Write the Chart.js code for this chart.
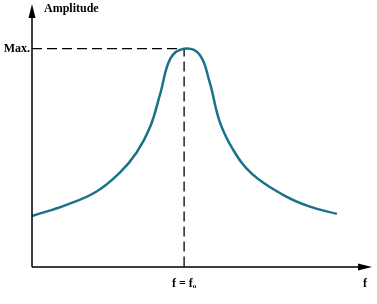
<!DOCTYPE html>
<html>
<head>
<meta charset="utf-8">
<script src="https://cdn.jsdelivr.net/npm/chart.js@4"></script>
<style>
  html, body { margin: 0; padding: 0; background: #fff; }
</style>
</head>
<body>
<canvas id="myChart" width="377" height="304"></canvas>
<script>
// resonance curve (x: frequency, y: amplitude, arbitrary units)
freq = [0, 1.0, 1.9, 2.6, 3.1, 3.5, 3.8, 4.1, 4.5, 4.95, 5.25, 5.55, 5.95, 6.5, 7.4, 8.2, 9.02];
amp = [1.98, 2.40, 2.92, 3.66, 4.45, 5.45, 6.75, 8.10, 8.47, 8.25, 7.20, 5.65, 4.55, 3.62, 2.82, 2.35, 2.06];

peakF = 4.5;
peakAmp = 8.47;

yTickLabels = ["Max."];
xTickLabels = ["f = f\u2092"];
yTitle = "Amplitude";
xTitle = "f";

const font = "'Liberation Serif', 'Times New Roman', serif";

const arrows = {
  id: "arrows",
  afterDraw(chart) {
    const ctx = chart.ctx;
    const x0 = chart.scales.x.left;
    const y0 = chart.scales.y.bottom;
    ctx.save();
    ctx.fillStyle = "#000";
    ctx.strokeStyle = "#000";
    ctx.lineWidth = 1.5;
    ctx.beginPath();
    ctx.moveTo(x0, y0);
    ctx.lineTo(x0, 12);
    ctx.moveTo(x0, y0);
    ctx.lineTo(364, y0);
    ctx.stroke();
    // y arrow
    ctx.beginPath();
    ctx.moveTo(x0, 4);
    ctx.lineTo(x0 - 3.5, 18);
    ctx.lineTo(x0 + 3.5, 18);
    ctx.closePath();
    ctx.fill();
    // x arrow
    ctx.beginPath();
    ctx.moveTo(372, y0);
    ctx.lineTo(358, y0 - 3.5);
    ctx.lineTo(358, y0 + 3.5);
    ctx.closePath();
    ctx.fill();
    // titles
    ctx.font = "bold 12px " + font;
    ctx.textBaseline = "middle";
    ctx.textAlign = "left";
    ctx.fillText(yTitle, 44, 9);
    ctx.fillText(xTitle, 363, 284);
    ctx.restore();
  }
};

function displayData() {
  const ctx = document.getElementById("myChart");

  new Chart(ctx, {
    type: "line",
    data: {
      datasets: [{
        data: freq.map((f, i) => ({ x: f, y: amp[i] })),
        borderColor: "#1b7189",
        borderWidth: 2.5,
        pointRadius: 0,
        tension: 0.4,
        fill: false
      }, {
        // dashed guide lines to the peak
        data: [{ x: 0, y: peakAmp }, { x: peakF, y: peakAmp }, { x: peakF, y: 0 }],
        borderColor: "#000",
        borderWidth: 1.3,
        borderDash: [10, 5],
        pointRadius: 0,
        tension: 0,
        fill: false
      }]
    },
    options: {
      responsive: false,
      animation: false,
      layout: { padding: { top: 5, right: 7, left: 0, bottom: 0 } },
      plugins: { legend: { display: false }, tooltip: { enabled: false } },
      scales: {
        x: {
          type: "linear",
          min: 0,
          max: 10,
          grid: { drawOnChartArea: false, drawTicks: false },
          border: { display: false },
          afterBuildTicks: s => { s.ticks = [{ value: peakF }]; },
          afterFit: s => { s.height = 37; },
          ticks: {
            padding: 10,
            color: "#000",
            font: { family: font, size: 12, weight: "bold" },
            callback: (v, i) => xTickLabels[i]
          }
        },
        y: {
          min: 0,
          max: 10,
          grid: { drawOnChartArea: false, drawTicks: false },
          border: { display: false },
          afterBuildTicks: s => { s.ticks = [{ value: peakAmp }]; },
          afterFit: s => { s.width = 32; },
          ticks: {
            padding: 2,
            color: "#000",
            font: { family: font, size: 12, weight: "bold" },
            callback: (v, i) => yTickLabels[i]
          }
        }
      }
    },
    plugins: [arrows]
  });
}

displayData();
</script>
</body>
</html>
